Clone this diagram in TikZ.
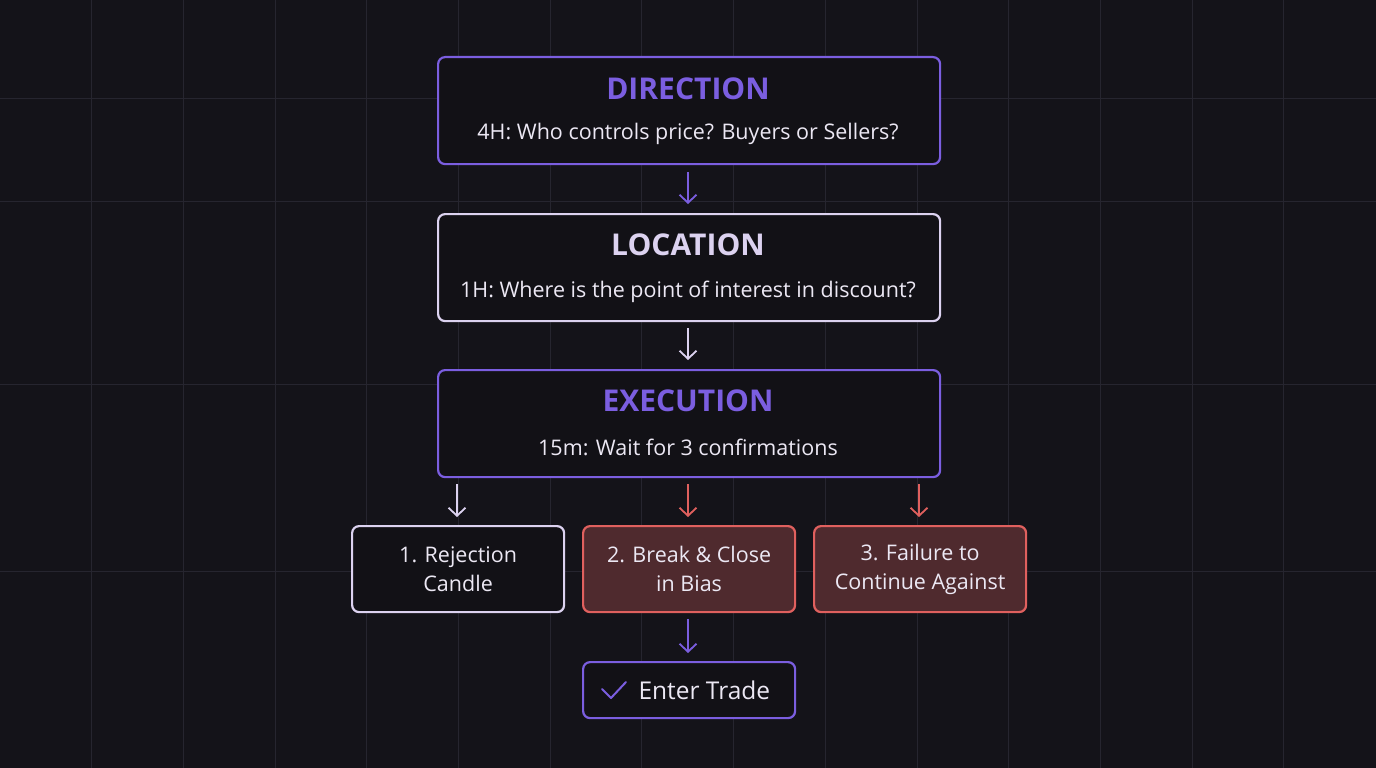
\documentclass[tikz,border=0pt]{standalone}
\usepackage{fontspec}
\setmainfont{Open Sans}
\usetikzlibrary{arrows.meta}
\definecolor{bg}{HTML}{141319}
\definecolor{gridc}{HTML}{26252F}
\definecolor{purp}{HTML}{7B5EE0}
\definecolor{lav}{HTML}{DCD2F0}
\definecolor{redc}{HTML}{E0605E}
\definecolor{redfill}{HTML}{4F2A2E}
\definecolor{boxfill}{HTML}{121116}
\definecolor{txt}{HTML}{ECE8F4}
\begin{document}
\begin{tikzpicture}[x=1pt,y=-1pt,
  box/.style={draw, line width=2.2pt, rounded corners=7pt, fill=boxfill, anchor=north west, inner sep=0pt},
  big/.style={box, minimum width=502pt, minimum height=107pt},
  small/.style={box, minimum width=212pt, minimum height=86pt, text=txt, font=\fontsize{21.5}{29}\selectfont, align=center},
  arr/.style={line width=1.8pt, -{Straight Barb[length=8pt,width=17pt,line width=1.8pt]}},
  ttl/.style={font=\fontsize{30}{32}\selectfont\bfseries},
  sub/.style={text=txt, font=\fontsize{21.5}{24}\selectfont}]
\fill[bg] (0,0) rectangle (1376,768);
\useasboundingbox (0,0) rectangle (1376,768);
\foreach \i in {1,...,14} \draw[gridc, line width=1pt] (91.7*\i,0) -- (91.7*\i,768);
\foreach \y in {98,201,384,571} \draw[gridc, line width=1pt] (0,\y) -- (1376,\y);
% big boxes
\node[big, draw=purp] (dir) at (437,56) {};
\node[ttl, text=purp] (dirt) at (688,89) {DIRECTION};
\node[sub] (dirs) at (688,134) {4H: Who controls price? Buyers or Sellers?};
\node[big, draw=lav] (loc) at (437,213) {};
\node[ttl, text=lav] (loct) at (688,245) {LOCATION};
\node[sub] (locs) at (688,292) {1H: Where is the point of interest in discount?};
\node[big, draw=purp] (exe) at (437,369) {};
\node[ttl, text=purp] (exet) at (688,401) {EXECUTION};
\node[sub] (exes) at (688,447) {15m: Wait for 3 confirmations};
% small boxes
\node[small, draw=lav] (c1) at (351,525) {1. Rejection\\Candle};
\node[small, draw=redc, fill=redfill] (c2) at (582,525) {2. Break \& Close\\in Bias};
\node[small, draw=redc, fill=redfill] (c3) at (813,525) {3. Failure to\\Continue Against};
\node[box, draw=purp, minimum width=212pt, minimum height=56pt] (ent) at (582,661) {};
\node[text=txt, font=\fontsize{24.5}{28}\selectfont, anchor=west] (entt) at (635,690) {Enter Trade};
\draw[purp, line width=2pt, line cap=round, line join=round] (602,689) -- (611,698) -- (626,682);
% arrows
\draw[arr, purp] (688,172) -- (688,204);
\draw[arr, lav] (688,328) -- (688,360);
\draw[arr, lav] (457,484) -- (457,517);
\draw[arr, redc] (688,484) -- (688,517);
\draw[arr, redc] (919,484) -- (919,517);
\draw[arr, purp] (688,619) -- (688,653);
\end{tikzpicture}
\end{document}
